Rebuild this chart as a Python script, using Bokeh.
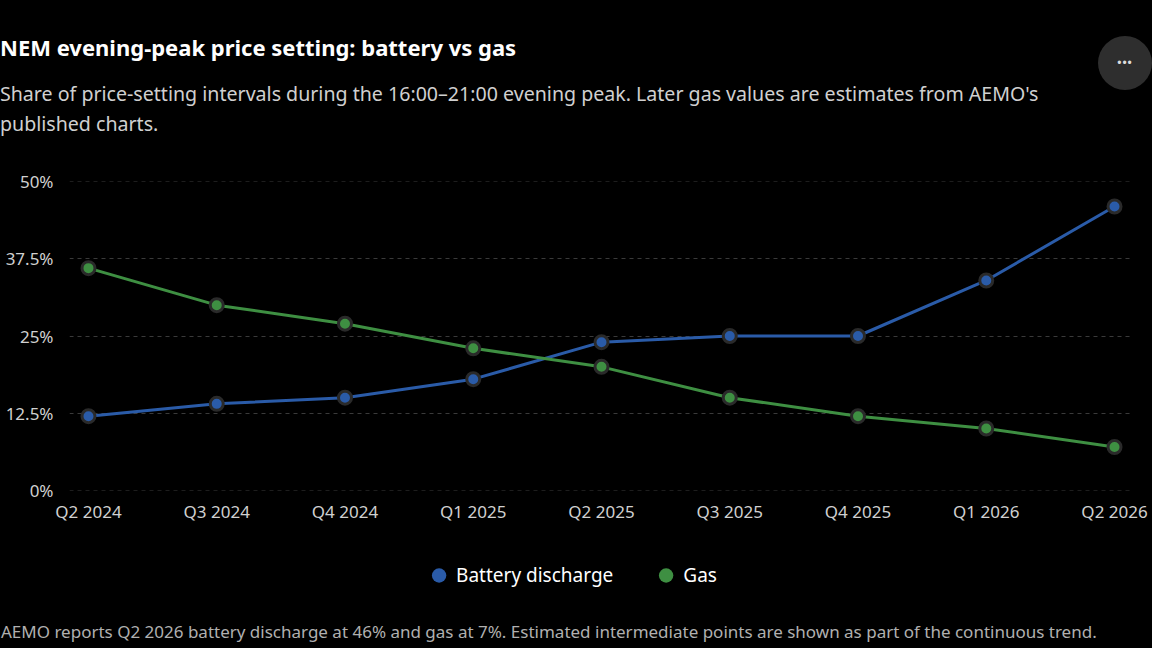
import bokeh.models
import bokeh.plotting
import bokeh.layouts
from bokeh.embed import file_html
from bokeh.resources import INLINE

quarters = ["Q2 2024", "Q3 2024", "Q4 2024", "Q1 2025", "Q2 2025",
            "Q3 2025", "Q4 2025", "Q1 2026", "Q2 2026"]
battery = [12, 14, 15, 18, 24, 25, 25, 34, 46]
gas = [36, 30, 27, 23, 20, 15, 12, 10, 7]
y_ticks = [0, 12.5, 25, 37.5, 50]
y_labels = ["0%", "12.5%", "25%", "37.5%", "50%"]

title = "NEM evening-peak price setting: battery vs gas"
subtitle = ("Share of price-setting intervals during the 16:00\u201321:00 evening peak. "
            "Later gas values are estimates from AEMO's published charts.")
footnote = ("AEMO reports Q2 2026 battery discharge at 46% and gas at 7%. "
            "Estimated intermediate points are shown as part of the continuous trend.")

FONT = "'Noto Sans', sans-serif"
BLUE = "#2a5ba8"
GREEN = "#3e8f42"

header = bokeh.models.Div(
    text=f"""
<div style="font-family:{FONT};width:1075px;">
  <div style="font-size:22px;font-weight:700;color:#ffffff;white-space:nowrap;padding-top:32px;">{title}</div>
  <div style="font-size:19.6px;line-height:30px;color:#d0d0d0;padding-top:16px;">{subtitle}</div>
</div>""",
    width=1090,
    height=150,
    margin=(0, 0, 0, 0),
)

button = bokeh.models.Div(
    text="""<div style="margin-top:36px;width:54px;height:54px;border-radius:50%;background:#2e2e2e;color:#dddddd;font-size:12px;line-height:54px;text-align:center;letter-spacing:1px;">&#8226;&#8226;&#8226;</div>""",
    width=54,
    height=150,
    margin=(0, 0, 0, 8),
)

x = list(range(len(quarters)))
source = bokeh.models.ColumnDataSource(data=dict(x=x, battery=battery, gas=gas))

plot = bokeh.plotting.figure(
    frame_width=1064,
    frame_height=309,
    x_range=(-0.148, len(quarters) - 1 + 0.148),
    y_range=(-0.05, 50.05),
    toolbar_location=None,
    tools="",
    output_backend="svg",
    min_border_left=69,
    min_border_right=19,
    min_border_top=31,
    min_border_bottom=40,
    background_fill_color="#000000",
    border_fill_color="#000000",
    outline_line_color=None,
    margin=(0, 0, 0, 0),
)

for col, color in (("battery", BLUE), ("gas", GREEN)):
    plot.line(x="x", y=col, source=source, line_color=color, line_width=3)
    plot.scatter(x="x", y=col, source=source, size=13, fill_color=color,
                 line_color="#2a2a2a", line_width=3)

plot.xaxis.ticker = bokeh.models.FixedTicker(ticks=x)
plot.xaxis.major_label_overrides = {i: q for i, q in zip(x, quarters)}
plot.yaxis.ticker = bokeh.models.FixedTicker(ticks=y_ticks)
plot.yaxis.major_label_overrides = {t: s for t, s in zip(y_ticks, y_labels)}

for axis in (plot.xaxis, plot.yaxis):
    axis.axis_line_color = None
    axis.major_tick_line_color = None
    axis.minor_tick_line_color = None
    axis.major_label_text_color = "#d0d0d0"
    axis.major_label_text_font_size = "17px"
    axis.major_label_text_font = "Noto Sans"
plot.xaxis.major_label_standoff = 3
plot.yaxis.major_label_standoff = 10

plot.xgrid.grid_line_color = None
plot.ygrid.grid_line_color = "#3a3a3a"
plot.ygrid.grid_line_dash = "4 4"
plot.ygrid.grid_line_width = 1

# Legend lives in its own strip below the chart; its markers reuse the series
# data, which lies outside this strip's ranges and so is not drawn.
legend_fig = bokeh.plotting.figure(
    width=1152,
    height=90,
    x_range=(-1, 0),
    y_range=(-1, 0),
    toolbar_location=None,
    tools="",
    output_backend="svg",
    x_axis_location=None,
    y_axis_location=None,
    min_border=0,
    min_border_right=84,
    background_fill_color="#000000",
    border_fill_color="#000000",
    outline_line_color=None,
    margin=(0, 0, 0, 0),
)
legend_fig.grid.visible = False
leg_battery = legend_fig.scatter(x="x", y="battery", source=source, size=14,
                                 fill_color=BLUE, line_color=None)
leg_gas = legend_fig.scatter(x="x", y="gas", source=source, size=14,
                             fill_color=GREEN, line_color=None)

legend = bokeh.models.Legend(
    items=[
        bokeh.models.LegendItem(label="Battery discharge", renderers=[leg_battery]),
        bokeh.models.LegendItem(label="Gas", renderers=[leg_gas]),
    ],
    orientation="horizontal",
    location="center",
    glyph_width=36,
    glyph_height=36,
    label_standoff=0,
    spacing=34,
    padding=0,
    margin=0,
    background_fill_alpha=0,
    border_line_color=None,
    label_text_color="#ffffff",
    label_text_font_size="19px",
    label_text_font="Noto Sans",
)
legend_fig.add_layout(legend)

foot = bokeh.models.Div(
    text=f'<div style="font-family:{FONT};font-size:17px;color:#b0b0b0;white-space:nowrap;padding-left:1px;">{footnote}</div>',
    width=1152,
    height=28,
    margin=(0, 0, 0, 0),
)

p = bokeh.layouts.column(bokeh.layouts.row(header, button, spacing=0),
                         plot, legend_fig, foot, spacing=0)

html = file_html(p, INLINE)
html = html.replace("<body>", '<body style="margin:0;background:#000000;overflow:hidden;">')
open("out.html", "w").write(html)
